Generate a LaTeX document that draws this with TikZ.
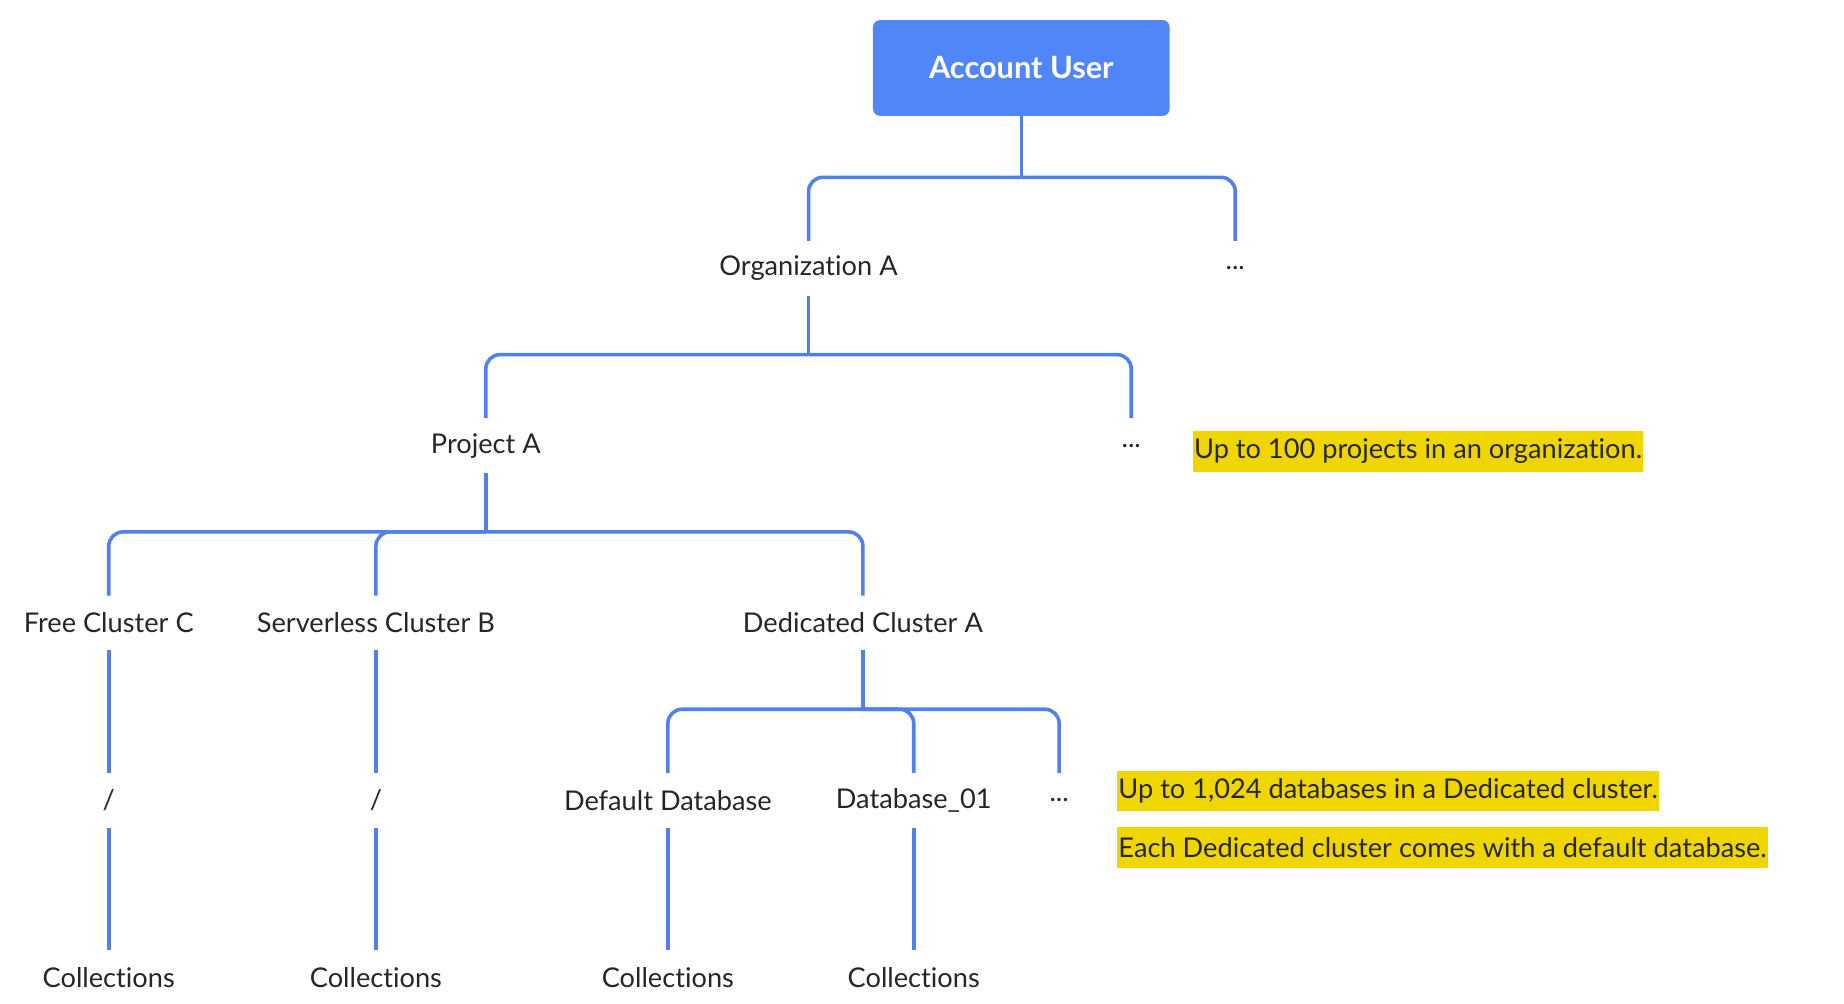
\documentclass[tikz,border=0pt]{standalone}
\usepackage{fontspec}
\setmainfont{Lato}[Ligatures={NoCommon}]
\begin{document}
\begin{tikzpicture}[x=1pt,y=1pt,
  conn/.style={line width=3pt, color={rgb,255:red,80;green,128;blue,236}, rounded corners=12pt},
  lbl/.style={font=\fontsize{23}{26}\selectfont, text=black!85, minimum height=46pt, inner sep=0pt},
  note/.style={font=\fontsize{23}{26}\selectfont, text=black!85, fill={rgb,255:red,240;green,214;blue,0}, anchor=west, inner xsep=1pt, inner ysep=0pt, minimum height=34pt}]
\useasboundingbox (0,0) rectangle (1560,-849);
\node[fill={rgb,255:red,80;green,134;blue,248}, rounded corners=6pt, minimum width=251pt, minimum height=81pt, text=white, font=\fontsize{26}{30}\selectfont\bfseries] (acc) at (864,-57.5) {Account User};
\node[lbl] (org) at (684,-227) {Organization A};
\node[lbl] (od) at (1045,-227) {...};
\node[lbl] (proj) at (411,-377) {Project A};
\node[lbl] (pd) at (957,-377) {...};
\node[lbl] (free) at (92,-527) {Free Cluster C};
\node[lbl] (serv) at (318,-527) {Serverless Cluster B};
\node[lbl] (ded) at (730,-527) {Dedicated Cluster A};
\node[lbl] (s1) at (92,-677) {/};
\node[lbl] (s2) at (318,-677) {/};
\node[lbl] (db0) at (565,-677) {Default Database};
\node[lbl] (db1) at (773,-677) {Database\_01};
\node[lbl] (dbd) at (896,-677) {...};
\node[lbl] (c1) at (92,-827) {Collections};
\node[lbl] (c2) at (318,-827) {Collections};
\node[lbl] (c3) at (565,-827) {Collections};
\node[lbl] (c4) at (773,-827) {Collections};
\node[note] (n1) at (1009,-382) {Up to 100 projects in an organization.};
\node[note] (n2) at (945,-669) {Up to 1,024 databases in a Dedicated cluster.};
\node[note] (n3) at (945,-717) {Each Dedicated cluster comes with a default database.};
\coordinate (j1) at (864,-150);
\coordinate (j2) at (684,-300);
\coordinate (j3) at (411,-450);
\coordinate (j4) at (730,-600);
\draw[conn] (acc.south) -- (j1);
\draw[conn] (org.north) |- (j1);
\draw[conn] (od.north) |- (j1);
\draw[conn] (org.south) -- (j2);
\draw[conn] (proj.north) |- (j2);
\draw[conn] (pd.north) |- (j2);
\draw[conn] (proj.south) -- (j3);
\draw[conn] (free.north) |- (j3);
\draw[conn] (serv.north) |- (j3);
\draw[conn] (ded.north) |- (j3);
\draw[conn] (ded.south) -- (j4);
\draw[conn] (db0.north) |- (j4);
\draw[conn] (db1.north) |- (j4);
\draw[conn] (dbd.north) |- (j4);
\draw[conn] (free.south) -- (s1.north);
\draw[conn] (s1.south) -- (c1.north);
\draw[conn] (serv.south) -- (s2.north);
\draw[conn] (s2.south) -- (c2.north);
\draw[conn] (db0.south) -- (c3.north);
\draw[conn] (db1.south) -- (c4.north);
\end{tikzpicture}
\end{document}
